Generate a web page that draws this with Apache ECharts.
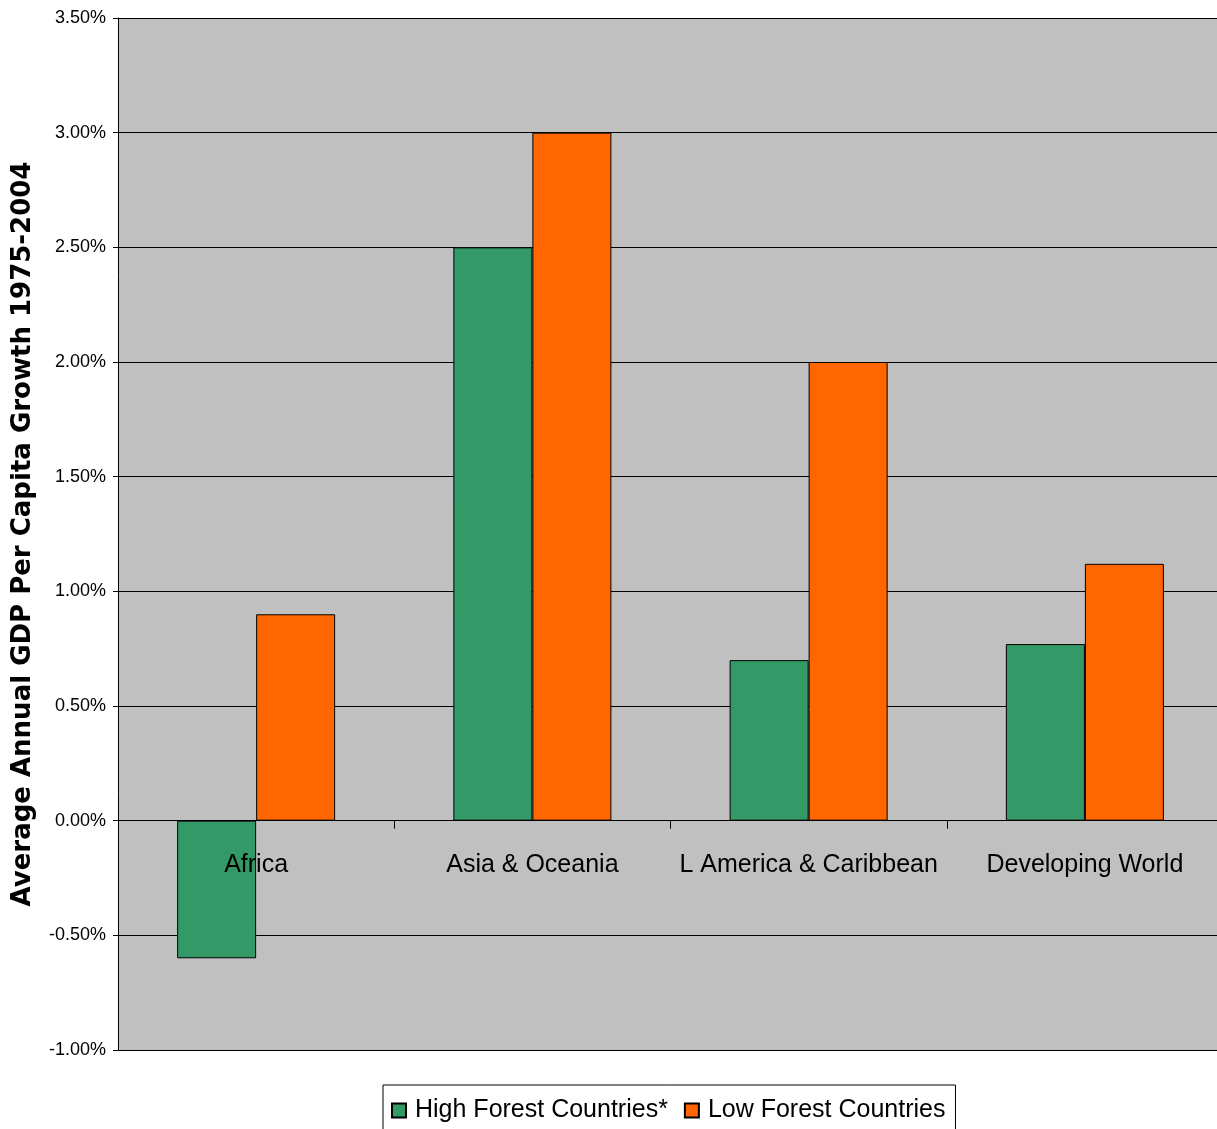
<!DOCTYPE html>
<html>
<head>
<meta charset="utf-8">
<script src="https://cdn.jsdelivr.net/npm/echarts@6/dist/echarts.min.js"></script>
<style>
  html, body { margin: 0; padding: 0; background: #fff; }
  #chart { width: 1217px; height: 1129px; }
</style>
</head>
<body>
<div id="chart"></div>
<script>
// Regions along the category axis
const regions = ['Africa', 'Asia & Oceania', 'L America & Caribbean', 'Developing World'];

// Average annual GDP per capita growth, 1975-2004 (percent)
const highForest = [-0.60, 2.50, 0.70, 0.77];
const lowForest = [0.90, 3.00, 2.00, 1.12];

// Value axis range and step (percent)
const yMin = -1.0;
const yMax = 3.5;
const yStep = 0.5;

const seriesNames = ['High Forest Countries*', 'Low Forest Countries'];
const seriesColors = ['#339966', '#FF6600'];

const narrow = '"Liberation Sans Narrow", "Arial Narrow", "Liberation Sans", Arial, sans-serif';
const regular = '"Liberation Sans", Arial, sans-serif';

// Plot box geometry
const gridLeft = 118;
const gridTop = 18;
const gridWidth = 1105;
const gridHeight = 1032;
// Lift the category axis up to the zero line of the value axis
const zeroOffset = -gridHeight * (0 - yMin) / (yMax - yMin);

const chart = echarts.init(document.getElementById('chart'), null, { renderer: 'canvas' });

chart.setOption({
  backgroundColor: '#ffffff',
  animation: false,
  grid: {
    left: gridLeft,
    top: gridTop,
    width: gridWidth,
    height: gridHeight,
    containLabel: false,
    outerBoundsMode: 'none',
    show: true,
    backgroundColor: '#C0C0C0',
    borderWidth: 0
  },
  legend: {
    top: 1085,
    left: 383,
    data: seriesNames,
    icon: 'rect',
    itemWidth: 14,
    itemHeight: 14,
    itemGap: 16,
    padding: [13, 10, 14, 8],
    borderColor: '#000',
    borderWidth: 1,
    textStyle: { fontFamily: narrow, fontSize: 25, color: '#000', padding: [0, 0, 0, 4] }
  },
  xAxis: {
    type: 'category',
    data: regions,
    position: 'bottom',
    offset: zeroOffset,
    axisLine: { onZero: false, lineStyle: { color: '#000', width: 1 } },
    axisTick: { show: true, length: 8, lineStyle: { color: '#000' } },
    axisLabel: { fontFamily: narrow, fontSize: 25, color: '#000', margin: 32, interval: 0, hideOverlap: false },
    splitLine: { show: false },
    z: 10
  },
  yAxis: {
    type: 'value',
    min: yMin,
    max: yMax,
    interval: yStep,
    name: 'Average Annual GDP Per Capita Growth 1975-2004',
    nameLocation: 'middle',
    nameGap: 82,
    nameTextStyle: {
      fontFamily: '"DejaVu Sans", sans-serif',
      fontWeight: 'bold',
      fontSize: 26,
      color: '#000'
    },
    axisLine: { show: true, lineStyle: { color: '#000', width: 1 } },
    axisTick: { show: true, length: 5, lineStyle: { color: '#000' } },
    axisLabel: {
      fontFamily: regular,
      fontSize: 18,
      color: '#000',
      margin: 12,
      formatter: v => v.toFixed(2) + '%'
    },
    splitLine: { show: true, lineStyle: { color: '#000', width: 1 } }
  },
  series: [
    {
      name: seriesNames[0],
      type: 'bar',
      data: highForest,
      barWidth: '28.6%',
      barGap: '0%',
      itemStyle: { color: seriesColors[0], borderColor: '#000', borderWidth: 1 }
    },
    {
      name: seriesNames[1],
      type: 'bar',
      data: lowForest,
      barWidth: '28.6%',
      barGap: '0%',
      itemStyle: { color: seriesColors[1], borderColor: '#000', borderWidth: 1 }
    }
  ]
});
</script>
</body>
</html>
